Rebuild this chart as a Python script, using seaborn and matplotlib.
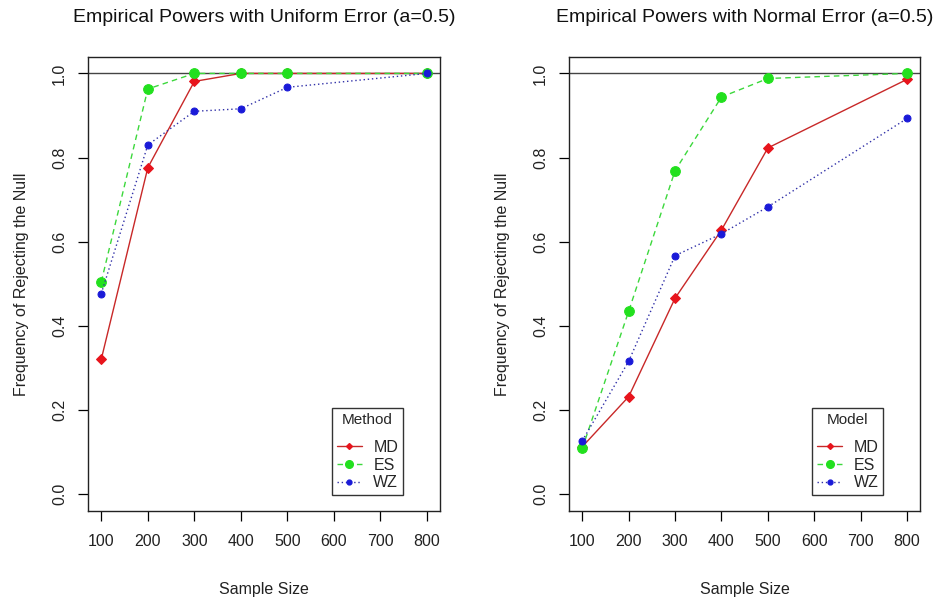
import matplotlib
matplotlib.use("Agg")
import matplotlib.pyplot as plt
import seaborn as sns
import pandas as pd
from matplotlib.lines import Line2D

sample_size = [100, 200, 300, 400, 500, 800]
x_ticks = [100, 200, 300, 400, 500, 600, 700, 800]
y_ticks = [0.0, 0.2, 0.4, 0.6, 0.8, 1.0]

uniform_md = [0.321, 0.776, 0.981, 1.0, 1.0, 1.0]
uniform_es = [0.505, 0.963, 1.0, 1.0, 1.0, 1.0]
uniform_wz = [0.477, 0.830, 0.910, 0.916, 0.967, 1.0]

normal_md = [0.113, 0.232, 0.466, 0.628, 0.823, 0.986]
normal_es = [0.109, 0.435, 0.769, 0.944, 0.988, 1.0]
normal_wz = [0.127, 0.316, 0.567, 0.619, 0.683, 0.893]

methods = ["MD", "ES", "WZ"]
titles = ["Empirical Powers with Uniform Error (a=0.5)",
          "Empirical Powers with Normal Error (a=0.5)"]
legend_titles = ["Method", "Model"]

sns.set_theme(style="white")
plt.rcParams["font.family"] = ["Liberation Sans", "DejaVu Sans"]

colors = {"MD": "#e8141c", "ES": "#22e01e", "WZ": "#1a1ad8"}
lstyles = {"MD": "-", "ES": (0, (4, 3)), "WZ": (0, (1, 2))}
markers = {"MD": "D", "ES": "o", "WZ": "o"}
msizes = {"MD": 5, "ES": 7, "WZ": 5}
leg_msizes = {"MD": 3, "ES": 5.5, "WZ": 3.5}
lcolors = {"MD": "#c82828", "ES": "#3cd83c", "WZ": "#3030a8"}

fig = plt.figure(figsize=(9.43, 6.02), dpi=100)
ax_pos = [[0.0936, 0.151, 0.373, 0.755], [0.6037, 0.151, 0.372, 0.755]]

panels = [
    {"MD": uniform_md, "ES": uniform_es, "WZ": uniform_wz},
    {"MD": normal_md, "ES": normal_es, "WZ": normal_wz},
]

for i, data in enumerate(panels):
    ax = fig.add_axes(ax_pos[i])
    ax.axhline(1.0, color="#444444", lw=1.0, zorder=1)
    for m in methods:
        df = pd.DataFrame({"n": sample_size, "p": data[m]})
        sns.lineplot(data=df, x="n", y="p", ax=ax, color=lcolors[m],
                     linestyle=lstyles[m], lw=1.0, marker=markers[m],
                     markersize=msizes[m], markerfacecolor=colors[m],
                     markeredgecolor=colors[m], zorder=3)
    ax.set_xlim(72, 828)
    ax.set_ylim(-0.04, 1.04)
    ax.set_xticks(x_ticks)
    ax.set_xticklabels([str(t) for t in x_ticks])
    ax.set_yticks(y_ticks)
    ax.set_yticklabels([f"{t:.1f}" for t in y_ticks], rotation=90, va="center")
    ax.tick_params(axis="both", direction="out", length=7.2, width=0.9,
                   color="black", labelsize=11.5, labelcolor="#222222",
                   left=True, bottom=True)
    ax.tick_params(axis="x", pad=9)
    ax.tick_params(axis="y", pad=8)
    for s in ax.spines.values():
        s.set_color("#222222")
        s.set_linewidth(1.0)
    ax.set_title(titles[i], fontsize=14, color="#111111", pad=25)
    ax.set_xlabel("Sample Size", fontsize=11.5, color="#222222", labelpad=24)
    ax.set_ylabel("Frequency of Rejecting the Null", fontsize=11.5,
                  color="#222222", labelpad=17)
    handles = [Line2D([0], [0], color=lcolors[m], linestyle=lstyles[m], lw=1.0,
                      marker=markers[m], markersize=leg_msizes[m],
                      markerfacecolor=colors[m], markeredgecolor=colors[m])
               for m in methods]
    leg = ax.legend(handles, methods, title=legend_titles[i], loc="lower right",
                    bbox_to_anchor=(0.895, 0.035), frameon=True, fancybox=False,
                    edgecolor="black", fontsize=11.5, title_fontsize=11,
                    handlelength=1.6, handletextpad=0.7, borderpad=0.3,
                    borderaxespad=0, labelspacing=0.18)
    leg.get_frame().set_linewidth(1.0)
    leg._legend_box.sep = 9

fig.savefig("out.png", dpi=100)
